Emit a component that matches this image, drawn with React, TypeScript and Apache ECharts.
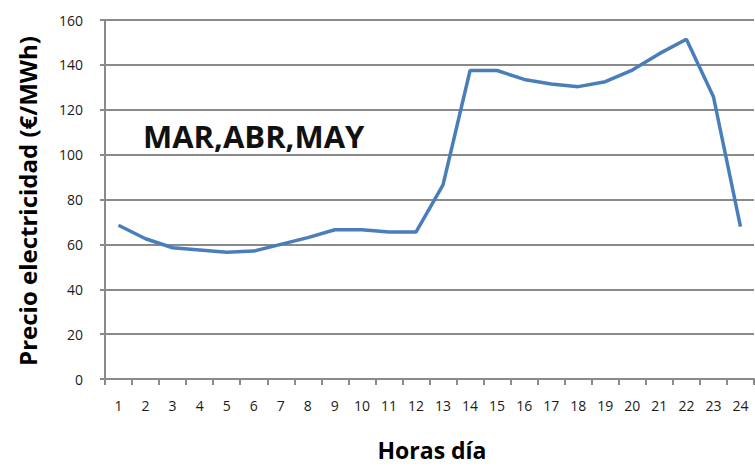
import React, { useEffect, useRef } from "react";
import * as echarts from "echarts";

const hours = ["1","2","3","4","5","6","7","8","9","10","11","12","13","14","15","16","17","18","19","20","21","22","23","24"];
const prices = [68.5, 62.5, 58.5, 57.5, 56.5, 57, 60, 63, 66.5, 66.5, 65.5, 65.5, 86.5, 137.5, 137.5, 133.5, 131.5, 130.3, 132.5, 137.7, 145, 151.4, 125.8, 67.9];
const yTicks = { min: 0, max: 160, interval: 20 };
const titleText = "MAR,ABR,MAY";
const yName = "Precio electricidad (€/MWh)";
const xName = "Horas día";

export default function App() {
  const ref = useRef<HTMLDivElement>(null);
  useEffect(() => {
    if (!ref.current) return;
    const chart = echarts.init(ref.current, undefined, { renderer: "svg" });
    const gray = "#8a8a8a";
    chart.setOption({
      animation: false,
      backgroundColor: "#ffffff",
      grid: { left: 105, right: 1, top: 20, bottom: 89, containLabel: false },
      graphic: [
        {
          type: "text",
          x: 143,
          y: 136,
          style: {
            text: titleText,
            font: "bold 31px 'Open Sans', sans-serif",
            fill: "#111111",
            verticalAlign: "middle",
          },
        },
        {
          type: "text",
          x: 27,
          y: 201,
          rotation: Math.PI / 2,
          style: {
            text: yName,
            font: "bold 24px 'Open Sans', sans-serif",
            fill: "#000000",
            align: "center",
            verticalAlign: "middle",
          },
        },
        {
          type: "text",
          x: 432,
          y: 450,
          style: {
            text: xName,
            font: "bold 23px 'Open Sans', sans-serif",
            lineHeight: 22,
            fill: "#000000",
            align: "center",
            verticalAlign: "middle",
          },
        },
      ],
      xAxis: {
        type: "category",
        data: hours,
        boundaryGap: true,
        axisLine: { lineStyle: { color: gray, width: 2 } },
        axisTick: { show: true, length: 6, lineStyle: { color: gray, width: 2 } },
        axisLabel: { color: "#1a1a1a", fontSize: 14, margin: 19, fontFamily: "'Open Sans', sans-serif", interval: 0 },
      },
      yAxis: {
        type: "value",
        min: yTicks.min,
        max: yTicks.max,
        interval: yTicks.interval,
        axisLine: { show: true, lineStyle: { color: gray, width: 2 } },
        axisTick: { show: true, length: 5, lineStyle: { color: gray, width: 2 } },
        splitLine: { show: true, lineStyle: { color: gray, width: 2 } },
        axisLabel: { color: "#1a1a1a", fontSize: 14, margin: 22, fontFamily: "'Open Sans', sans-serif" },
      },
      series: [
        {
          type: "line",
          data: prices,
          symbol: "none",
          smooth: false,
          lineStyle: { color: "#4a7ebb", width: 3.5 },
        },
      ],
    });
    return () => chart.dispose();
  }, []);
  return <div ref={ref} style={{ width: 755, height: 468, position: "absolute", left: 0, top: 0 }} />;
}
